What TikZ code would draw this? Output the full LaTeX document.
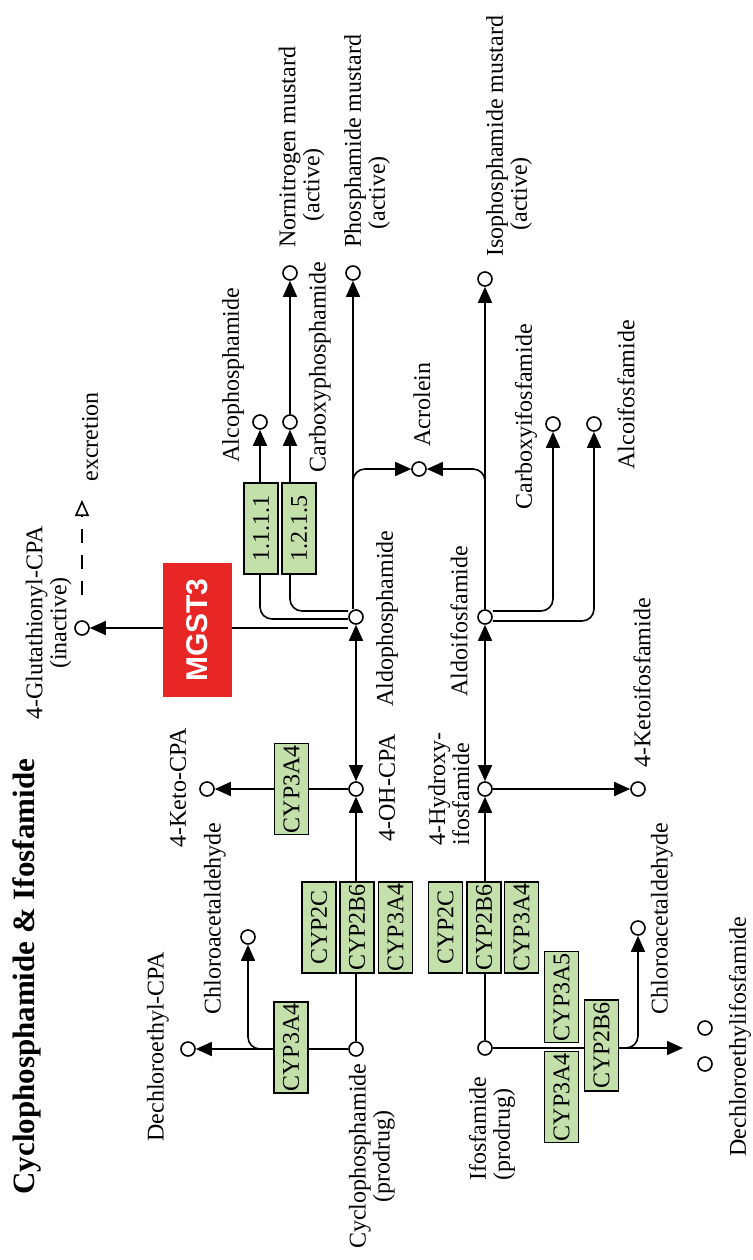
\documentclass[tikz,border=0pt]{standalone}
\usepackage{fontspec}
\setmainfont{Liberation Serif}
\newfontfamily\lsans{Liberation Sans}
\usetikzlibrary{arrows.meta,calc}
\definecolor{enzgreen}{RGB}{196,224,170}
\definecolor{kred}{RGB}{232,38,38}
\begin{document}
\begin{tikzpicture}[x=0.5pt,y=-0.5pt,
  cpd/.style={circle,draw,line width=0.8pt,minimum size=7pt,inner sep=0pt,fill=white},
  lab/.style={rotate=90,anchor=west,inner sep=0pt,font=\fontsize{12}{12}\selectfont},
  enz/.style={rotate=90,draw,line width=0.7pt,fill=enzgreen,minimum width=45.5pt,minimum height=17pt,inner sep=0pt,font=\fontsize{12}{12}\selectfont},
  link/.style={line width=0.8pt},
  arr/.style={link,-{Triangle[length=8pt,width=7pt]}},
  darr/.style={link,{Triangle[length=8pt,width=7pt]}-{Triangle[length=8pt,width=7pt]}},
  oarr/.style={link,dash pattern=on 7pt off 6pt,-{Triangle[open,length=8pt,width=7pt]}}
]
\useasboundingbox[fill=white] (0,0) rectangle (753,1260);

% compounds
\node[cpd] (nm) at (290,273) {};
\node[cpd] (pm) at (353,273) {};
\node[cpd] (im) at (485,279) {};
\node[cpd] (alco) at (260,422) {};
\node[cpd] (carbo) at (290,422) {};
\node[cpd] (acr) at (419,469) {};
\node[cpd] (cifo) at (553,424) {};
\node[cpd] (aifo) at (594,424) {};
\node[cpd] (glut) at (82,628) {};
\node[cpd] (aldo) at (356,617) {};
\node[cpd] (aldoi) at (485,617) {};
\node[cpd] (kcpa) at (207,789) {};
\node[cpd] (oh) at (356,789) {};
\node[cpd] (hi) at (485,789) {};
\node[cpd] (kifo) at (638,789) {};
\node[cpd] (cpa) at (356,1049) {};
\node[cpd] (ifo) at (485,1048) {};
\node[cpd] (dcpa) at (188,1049) {};
\node[cpd] (chla) at (248,937) {};
\node[cpd] (chlb) at (638,928) {};
\node[cpd] (difa) at (705,1028) {};
\node[cpd] (difb) at (705,1064) {};

\coordinate (aldoS) at (348,628);
\coordinate (exs) at (82,595);
\coordinate (exe) at (82,500);
\coordinate (difend) at (683,1048);

% connectors
\draw[arr] (cpa) -- (oh);
\draw[arr] (ifo) -- (hi);
\draw[darr] (oh) -- (aldo);
\draw[darr] (hi) -- (aldoi);
\draw[arr] (oh) -- (kcpa);
\draw[arr] (hi) -- (kifo);
\draw[arr] (aldoS) -- (glut);
\draw[oarr] (exs) -- (exe);
\draw[arr] (pm |- aldo.north) -- (pm);
\draw[arr] (aldoi) -- (im);
\draw[arr] (carbo) -- (nm);
\draw[arr,rounded corners=6pt] ($(aldo.west)+(0,2)$) -| (alco);
\draw[arr,rounded corners=6pt] ($(aldo.west)+(0,-6)$) -| (carbo);
\draw[arr,rounded corners=6pt] ($(aldoi.east)+(0,-6)$) -| (cifo);
\draw[arr,rounded corners=6pt] ($(aldoi.east)+(0,4)$) -| (aifo);
\draw[arr,rounded corners=6pt] ($(pm |- acr)+(0,14)$) |- (acr);
\draw[arr,rounded corners=6pt] ($(im |- acr)+(0,14)$) |- (acr);
\draw[arr] (cpa) -- (dcpa);
\draw[arr,rounded corners=6pt] ($(chla |- cpa)+(18,0)$) -| (chla);
\draw[arr] (ifo) -- (difend);
\draw[arr,rounded corners=6pt] ($(chlb |- ifo)+(-16,0)$) -| (chlb);

% enzymes
\node[enz] (e1) at (261,528.5) {1.1.1.1};
\node[enz] (e2) at (299,528.5) {1.2.1.5};
\node[rotate=90,fill=kred,minimum width=67pt,minimum height=34.5pt,inner sep=0pt,text=white,font=\lsans\bfseries\fontsize{15}{15}\selectfont] (mg) at (197.5,630) {MGST3};
\node[enz] (c3a4k) at (291.5,789) {CYP3A4};
\node[enz] (c2c) at (319,927.5) {CYP2C};
\node[enz] (c2b6) at (357,927.5) {CYP2B6};
\node[enz] (c3a4) at (395.5,927.5) {CYP3A4};
\node[enz] (i2c) at (445.5,927.5) {CYP2C};
\node[enz] (i2b6) at (484,927.5) {CYP2B6};
\node[enz] (i3a4) at (521.5,927.5) {CYP3A4};
\node[enz] (d3a4) at (291,1047.5) {CYP3A4};
\node[enz] (i3a5) at (561.5,997) {CYP3A5};
\node[enz] (i3a4b) at (561.5,1097) {CYP3A4};
\node[enz] (i2b6b) at (601.5,1045.5) {CYP2B6};

% labels
\node[lab,align=left] (lnm) at (301.5,248) {Nornitrogen mustard\\\hspace*{13pt}(active)};
\node[lab,align=left] (lpm) at (367,248) {Phosphamide mustard\\\hspace*{9pt}(active)};
\node[lab,align=left] (lim) at (509,257) {Isophosphamide mustard\\\hspace*{13pt}(active)};
\node[lab] (lalco) at (233,463) {Alcophosphamide};
\node[lab] (lcarbo) at (320,473) {Carboxyphosphamide};
\node[lab] (lacr) at (422,447) {Acrolein};
\node[lab] (lcifo) at (526,510) {Carboxyifosfamide};
\node[lab] (laifo) at (626,470) {Alcoifosfamide};
\node[lab,align=center,anchor=center] (lglut) at (48.5,623) {4-Glutathionyl-CPA\\(inactive)};
\node[lab] (lexc) at (90,482) {excretion};
\node[lab] (laldo) at (387,707) {Aldophosphamide};
\node[lab] (laldoi) at (459,697) {Aldoifosfamide};
\node[lab] (loh) at (387,842) {4-OH-CPA};
\node[lab,align=left] (lhi) at (449,846) {4-Hydroxy-\\ifosfamide};
\node[lab] (lkifo) at (642,768) {4-Ketoifosfamide};
\node[lab] (lkcpa) at (178,848) {4-Keto-CPA};
\node[lab] (lchla) at (215,1015) {Chloroacetaldehyde};
\node[lab] (ldcpa) at (158,1142) {Dechloroethyl-CPA};
\node[lab,align=center,anchor=center] (lcpa) at (372,1156) {Cyclophosphamide\\(prodrug)};
\node[lab,align=left] (lifo) at (492,1181) {Ifosfamide\\(prodrug)};
\node[lab] (lchlb) at (662,1015) {Chloroacetaldehyde};
\node[lab] (ldifo) at (740,1157) {Dechloroethylifosfamide};
\node[lab,font=\bfseries\fontsize{15.5}{16}\selectfont] (title) at (27,1195) {Cyclophosphamide \& Ifosfamide};
\end{tikzpicture}
\end{document}
